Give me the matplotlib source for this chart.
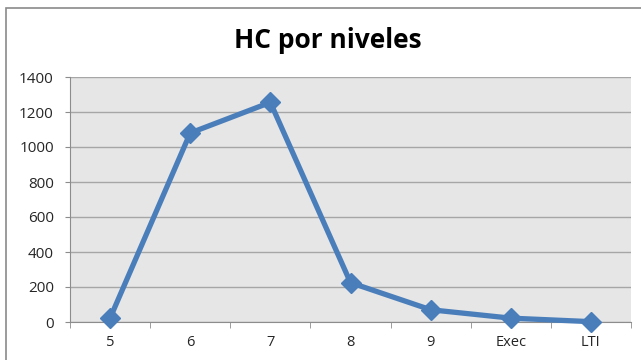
import matplotlib
matplotlib.use("Agg")
import matplotlib.pyplot as plt
import matplotlib.patches as mpatches
import numpy as np

# HC per level
niveles = ["5", "6", "7", "8", "9", "Exec", "LTI"]
hc = [22, 1080, 1255, 225, 70, 22, 2]
y_ticks = [0, 200, 400, 600, 800, 1000, 1200, 1400]

LINE_BLUE = "#4a7ebb"
GRID = "#a6a6a6"
AXIS = "#8c8c8c"

fig = plt.figure(figsize=(6.41, 3.60), dpi=100)
fig.patch.set_facecolor("white")

# outer chart frame (runs off the right and bottom edges)
frame = mpatches.Rectangle((6 / 641, -0.05), 1.2, 1 - 8 / 360 + 0.05,
                           transform=fig.transFigure, fill=False,
                           edgecolor="#8a8a8a", lw=1.2)
fig.patches.append(frame)

ax = fig.add_axes([70 / 641, 1 - 322 / 360, 561 / 641, 245 / 360])
ax.set_facecolor("#e6e6e6")

x = np.arange(len(niveles))
ax.plot(x, hc, color=LINE_BLUE, lw=3.8, marker="D", markersize=10.5,
        markerfacecolor=LINE_BLUE, markeredgecolor=LINE_BLUE,
        solid_joinstyle="round", zorder=3, clip_on=False)

ax.set_xlim(-0.5, len(niveles) - 0.5)
ax.set_ylim(0, 1400)
ax.set_yticks(y_ticks)
ax.set_yticklabels([str(v) for v in y_ticks])
ax.set_xticks(x)
ax.set_xticklabels(niveles)
ax.set_xticks(np.arange(-0.5, len(niveles)), minor=True)

ax.grid(axis="y", color=GRID, lw=1.0, zorder=1)
ax.set_axisbelow(True)

for side in ["top", "right"]:
    ax.spines[side].set_visible(False)
ax.spines["left"].set_color(AXIS)
ax.spines["bottom"].set_color(AXIS)

ax.tick_params(axis="x", which="major", length=0, pad=9,
               labelsize=10.5, labelcolor="#262626")
ax.tick_params(axis="x", which="minor", length=4, color=AXIS, direction="out")
ax.tick_params(axis="y", length=3.6, color=AXIS, pad=8,
               labelsize=11, labelcolor="#262626")

fig.text(328 / 641, 1 - 41 / 360, "HC por niveles", ha="center", va="center",
         fontsize=19, fontweight="bold", family="Open Sans", color="black")

for lbl in ax.get_xticklabels() + ax.get_yticklabels():
    lbl.set_family("Open Sans")

fig.savefig("out.png", dpi=100)
